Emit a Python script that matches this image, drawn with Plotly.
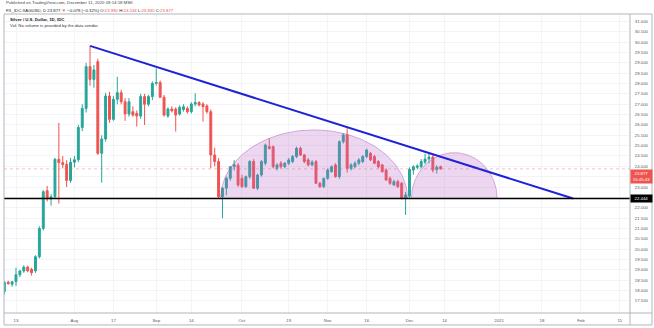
import numpy as np
import pandas as pd
import plotly.graph_objects as go

# ---- daily XAG/USD candles (weekday sessions) ----
dates = pd.bdate_range("2020-07-08", "2020-12-11")

opens = [17.95, 18.40, 18.30, 18.42, 18.76, 18.94, 19.13, 19.02, 18.95, 19.63,
         21.00, 22.82, 22.42, 22.53, 24.34, 24.18, 24.10, 23.32, 24.20, 24.32,
         25.88, 26.80, 28.82, 28.20, 29.06, 24.63, 25.32, 27.40, 26.27, 27.24,
         27.56, 27.12, 26.53, 26.64, 26.56, 26.43, 27.37, 27.00, 27.37, 28.01,
         28.05, 27.34, 26.43, 26.77, 26.77, 26.53, 26.75, 26.80, 26.64, 27.01,
         27.08, 27.01, 26.92, 26.64, 24.55, 24.23, 22.53, 22.94, 23.42, 23.98,
         24.05, 23.42, 23.02, 23.50, 24.23, 22.94, 23.58, 24.15, 24.95, 24.95,
         23.90, 24.15, 23.98, 24.15, 24.23, 24.47, 24.87, 24.55, 24.31, 24.07,
         24.23, 23.18, 23.02, 23.42, 23.74, 24.07, 23.50, 25.19, 25.52, 23.90,
         23.98, 24.15, 24.23, 24.47, 24.63, 24.47, 24.23, 24.07, 23.82, 23.42,
         23.10, 23.26, 23.18, 22.45, 22.55, 23.82, 23.95, 23.98, 24.20, 24.35,
         24.45, 23.85, 23.980]
highs = [18.45, 18.47, 18.46, 19.10, 19.00, 19.22, 19.20, 19.10, 19.70, 21.10,
         22.85, 23.05, 22.65, 24.40, 26.10, 24.50, 24.30, 24.40, 24.50, 26.00,
         27.00, 29.00, 29.82, 28.90, 29.20, 25.50, 27.55, 27.60, 27.40, 28.33,
         27.70, 27.30, 27.30, 26.90, 26.70, 27.50, 27.50, 27.45, 28.10, 28.74,
         28.15, 27.45, 26.85, 26.90, 26.85, 26.95, 27.00, 26.90, 27.10, 27.53,
         27.15, 27.10, 27.00, 26.75, 24.90, 24.40, 23.00, 23.50, 24.00, 24.30,
         24.15, 23.60, 23.55, 24.30, 24.35, 23.65, 24.30, 25.10, 25.35, 25.00,
         24.15, 24.25, 24.20, 24.40, 24.55, 24.95, 24.95, 24.60, 24.40, 24.30,
         24.30, 23.25, 23.45, 23.90, 24.05, 24.15, 25.25, 25.60, 25.84, 24.15,
         24.25, 24.40, 24.55, 24.85, 24.70, 24.55, 24.30, 24.12, 23.90, 23.50,
         23.35, 23.35, 23.25, 22.75, 23.95, 24.05, 24.10, 24.35, 24.60, 24.62,
         24.60, 24.05, 24.034]
lows = [17.80, 18.28, 18.18, 18.22, 18.65, 18.85, 18.88, 18.72, 18.85, 19.55,
        20.90, 22.30, 22.10, 22.45, 22.20, 23.90, 23.00, 23.20, 23.95, 24.20,
        25.70, 26.60, 27.90, 27.80, 24.55, 23.21, 25.20, 26.10, 26.20, 27.00,
        27.00, 26.20, 26.40, 26.40, 25.92, 26.30, 26.00, 26.90, 27.20, 27.90,
        27.30, 26.40, 26.35, 26.60, 25.68, 26.45, 26.65, 26.55, 26.55, 26.90,
        26.90, 26.16, 26.55, 23.90, 24.00, 22.45, 21.49, 22.60, 23.30, 23.80,
        23.00, 22.95, 22.95, 23.40, 22.90, 22.85, 23.50, 24.05, 24.80, 23.90,
        23.80, 23.90, 23.90, 24.05, 24.15, 24.40, 24.50, 24.15, 24.00, 24.00,
        23.15, 22.95, 22.95, 23.35, 23.70, 23.45, 23.40, 25.10, 23.70, 23.80,
        23.90, 24.05, 24.15, 24.40, 24.25, 24.10, 23.90, 23.70, 23.30, 23.10,
        23.05, 22.95, 22.40, 21.65, 22.45, 23.60, 23.85, 23.90, 24.10, 24.15,
        23.70, 23.65, 23.835]
closes = [18.40, 18.33, 18.42, 18.76, 18.94, 19.13, 18.95, 18.86, 19.63, 21.00,
          22.77, 22.42, 22.53, 24.34, 24.18, 24.08, 23.32, 24.20, 24.32, 25.88,
          26.80, 28.82, 28.20, 28.66, 24.63, 25.32, 27.40, 26.27, 27.24, 27.56,
          27.12, 26.53, 27.12, 26.48, 26.43, 27.37, 27.00, 27.37, 28.01, 28.05,
          27.34, 26.48, 26.77, 26.69, 26.48, 26.85, 26.88, 26.64, 27.01, 27.08,
          26.96, 26.88, 26.64, 24.55, 24.23, 22.53, 22.94, 23.42, 23.98, 24.08,
          23.10, 23.02, 23.50, 24.23, 22.94, 23.58, 24.23, 25.03, 24.87, 23.98,
          24.07, 23.98, 24.15, 24.31, 24.47, 24.87, 24.55, 24.23, 24.07, 24.20,
          23.18, 23.02, 23.42, 23.82, 23.98, 23.50, 25.19, 25.52, 23.90, 24.07,
          24.15, 24.31, 24.47, 24.79, 24.31, 24.15, 23.98, 23.74, 23.34, 23.18,
          23.26, 23.02, 22.45, 22.62, 23.85, 23.98, 24.02, 24.23, 24.35, 24.45,
          23.82, 23.955, 23.877]

# ---- time axis labels ----
tick_dates = ["2020-07-13", "2020-08-03", "2020-08-17", "2020-09-01", "2020-09-14",
              "2020-10-01", "2020-10-19", "2020-11-02", "2020-11-16", "2020-12-01",
              "2020-12-14", "2021-01-01", "2021-01-18", "2021-02-01", "2021-02-15"]
tick_text = ["13", "Aug", "17", "Sep", "14", "Oct", "19", "Nov", "16", "Dec",
             "14", "2021", "18", "Feb", "15"]

# ---- price axis labels (levels under the price tags stay unlabeled) ----
price_ticks = [17.5 + 0.5 * i for i in range(28)]
covered_ticks = [22.5, 23.5]

# ---- drawings ----
support_level = 22.444
last_price = 23.877
countdown = "16:45:43"
trend_dates = ["2020-08-07", "2021-01-28"]
trend_prices = [29.82, 22.444]
arc_starts = ["2020-09-23", "2020-12-01"]
arc_ends = ["2020-11-30", "2020-12-31"]
arc_tops = [25.76, 24.66]

first_day = dates[0].strftime("%Y-%m-%d")


def day_pos(d, shift=0.0):
    """Session index of a calendar date on the weekday time scale."""
    return float(np.busday_count(first_day, d)) + shift


x_idx = np.arange(len(dates))
tick_pos = [day_pos(d) for d in tick_dates]

UP = "#26a69a"
DOWN = "#ef5350"
FONT = "Liberation Sans"

fig = go.Figure()

# elliptical arc drawings (filled)
for s, e, top in zip(arc_starts, arc_ends, arc_tops):
    x0, x1 = day_pos(s, 0.5), day_pos(e, 0.5)
    cx, a = (x0 + x1) / 2, (x1 - x0) / 2
    t = np.linspace(0, np.pi, 90)
    ax = cx - a * np.cos(t)
    ay = support_level + (top - support_level) * np.sin(t)
    fig.add_trace(go.Scatter(x=ax, y=ay, mode="lines", fill="toself",
                             fillcolor="rgba(186,104,200,0.27)",
                             line=dict(color="rgba(170,90,190,0.6)", width=0.8),
                             hoverinfo="skip", showlegend=False))

fig.add_trace(go.Candlestick(
    x=x_idx, open=opens, high=highs, low=lows, close=closes,
    increasing=dict(line=dict(color=UP, width=1), fillcolor=UP),
    decreasing=dict(line=dict(color=DOWN, width=1), fillcolor=DOWN),
    whiskerwidth=0, showlegend=False))

# descending trend line
fig.add_trace(go.Scatter(x=[day_pos(d) for d in trend_dates], y=trend_prices,
                         mode="lines", line=dict(color="#1f22d6", width=2),
                         hoverinfo="skip", showlegend=False))

shapes = [
    # last price line
    dict(type="line", xref="paper", x0=0, x1=1, yref="y", y0=last_price, y1=last_price,
         line=dict(color="rgba(239,83,80,0.35)", width=1, dash="dot")),
    # horizontal support
    dict(type="line", xref="paper", x0=0, x1=1, yref="y", y0=support_level, y1=support_level,
         line=dict(color="#000000", width=1.6)),
    # outer frame incl. price and time scales
    dict(type="rect", xref="paper", yref="paper", x0=0, x1=1.0351, y0=-0.04, y1=1,
         line=dict(color="#b2b5be", width=1)),
    dict(type="line", xref="paper", yref="paper", x0=1, x1=1, y0=-0.04, y1=1,
         line=dict(color="#b2b5be", width=1)),
    dict(type="line", xref="paper", yref="paper", x0=0, x1=1.0351, y0=0, y1=0,
         line=dict(color="#b2b5be", width=1)),
]

red = DOWN
annotations = [
    dict(text="Published on TradingView.com, December 11, 2020 09:14:18 MSK",
         xref="paper", yref="paper", x=0, y=1.037, xanchor="left", yanchor="middle",
         showarrow=False, font=dict(family=FONT, size=4.3, color="#444")),
    dict(text=("FX_IDC:XAGUSD, D 23.877 <span style='color:%s'>▼</span> −0.078 (−0.32%%) "
               "O:<span style='color:%s'>23.980</span> H:<span style='color:%s'>24.034</span> "
               "L:<span style='color:%s'>23.835</span> C:<span style='color:%s'>23.877</span>")
         % (red, red, red, red, red),
         xref="paper", yref="paper", x=0, y=1.013, xanchor="left", yanchor="middle",
         showarrow=False, font=dict(family=FONT, size=4.3, color="#222")),
    dict(text="<b>Silver / U.S. Dollar, 1D, IDC</b>",
         xref="paper", yref="paper", x=0.006, y=0.98, xanchor="left", yanchor="middle",
         showarrow=False, font=dict(family=FONT, size=4.3, color="#131722")),
    dict(text="Vol: No volume is provided by the data vendor.",
         xref="paper", yref="paper", x=0.006, y=0.96, xanchor="left", yanchor="middle",
         showarrow=False, font=dict(family=FONT, size=4.3, color="#333")),
    dict(text="%.3f<br>%s" % (last_price, countdown), xref="paper", yref="y",
         x=1.0, y=last_price, xanchor="left", yanchor="top", yshift=0,
         showarrow=False, bgcolor=DOWN, borderpad=1, width=19, align="center",
         font=dict(family=FONT, size=4.3, color="#ffffff")),
    dict(text="%.3f" % support_level, xref="paper", yref="y",
         x=1.0, y=support_level, xanchor="left", yanchor="middle",
         showarrow=False, bgcolor="#000000", borderpad=1, width=19, align="center",
         font=dict(family=FONT, size=4.3, color="#ffffff")),
]

fig.update_layout(
    width=654, height=328,
    margin=dict(l=4, r=24, t=14, b=15),
    paper_bgcolor="#ffffff", plot_bgcolor="#ffffff",
    shapes=shapes, annotations=annotations,
    showlegend=False,
    xaxis=dict(range=[-0.08, 160.6], tickvals=tick_pos, ticktext=tick_text,
               showgrid=True, gridcolor="#f3f4f7", gridwidth=1, zeroline=False,
               rangeslider=dict(visible=False), ticks="outside", ticklen=3,
               tickcolor="rgba(0,0,0,0)", showline=False,
               tickfont=dict(family=FONT, size=4.3, color="#555")),
    yaxis=dict(range=[16.911, 31.3625], side="right", tickvals=price_ticks,
               ticktext=["" if v in covered_ticks else "%.3f" % v for v in price_ticks],
               showgrid=True, gridcolor="#f3f4f7", gridwidth=1, zeroline=False,
               ticks="outside", ticklen=3, tickcolor="rgba(0,0,0,0)", showline=False,
               tickfont=dict(family=FONT, size=4.3, color="#555")),
)

fig.write_html("out.html")
